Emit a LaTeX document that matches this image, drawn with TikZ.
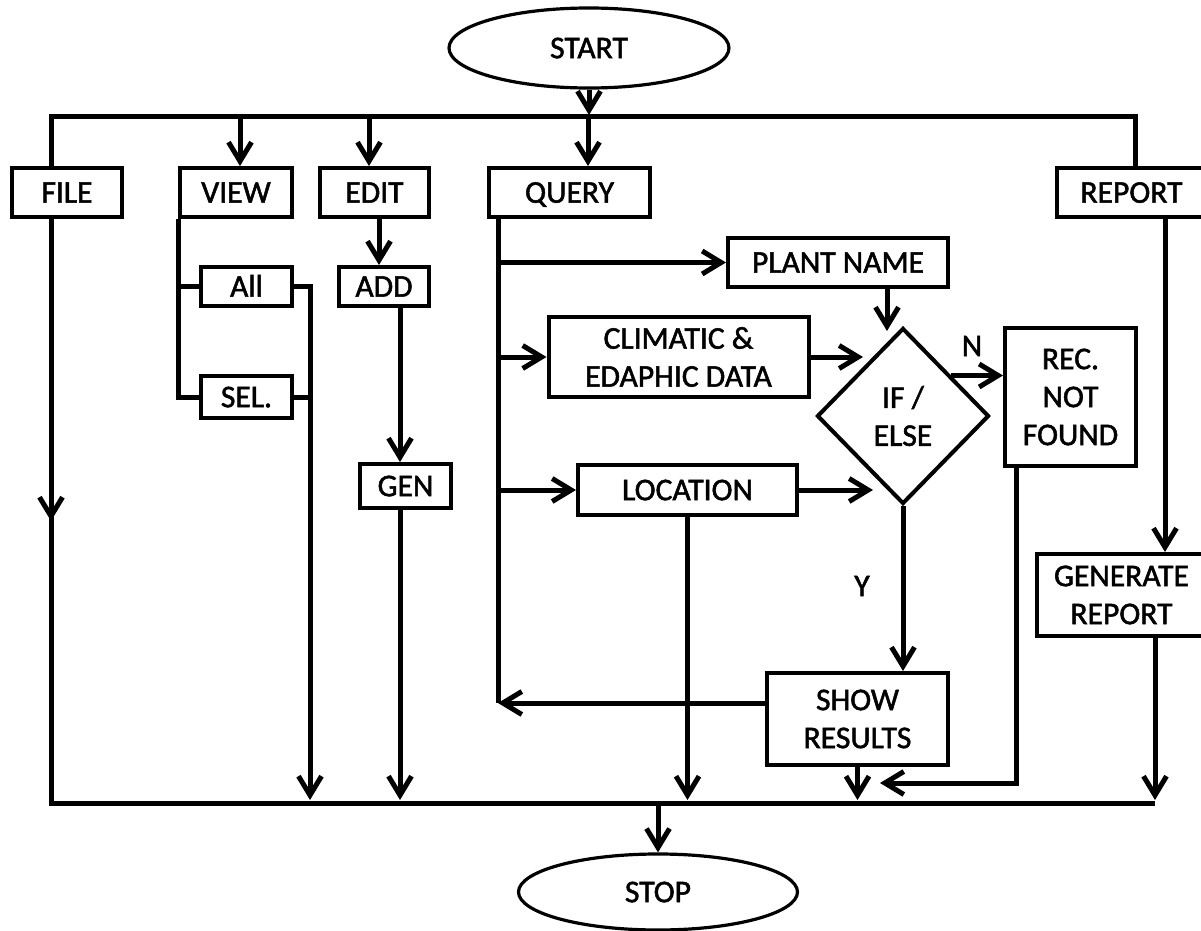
\documentclass[tikz,border=0pt]{standalone}
\usepackage{fontspec}
\setmainfont{Carlito}[RawFeature={embolden=1.6}]
\usetikzlibrary{arrows.meta,shapes.geometric,calc}
\begin{document}
\begin{tikzpicture}[x=0.5pt,y=-0.5pt,
  font=\fontsize{15.8pt}{19pt}\selectfont,
  box/.style={draw, line width=2pt, inner sep=0pt, align=center},
  one/.style={text height=10.2pt, text depth=0pt},
  oval/.style={draw, ellipse, line width=1.6pt, inner sep=0pt, text height=10.2pt, text depth=0pt},
  line/.style={line width=2.5pt},
  arr/.style={line width=2.5pt, -{Straight Barb[length=9.5pt,width=11.5pt]}},
  lab/.style={inner sep=0pt, text height=10.2pt, text depth=0pt},
]
\useasboundingbox (0,0) rectangle (1201,931);
\clip (0,0) rectangle (1201,931);

% nodes
\node[oval, minimum width=140pt, minimum height=40pt] (start) at (589,48) {START};
\node[oval, minimum width=139.5pt, minimum height=38pt] (stop) at (658,892) {STOP};

\node[box, one, minimum width=55pt, minimum height=24.5pt] (file) at (67,192.5) {FILE};
\node[box, one, minimum width=56pt, minimum height=24.5pt] (view) at (236,192.5) {VIEW};
\node[box, one, minimum width=54.5pt, minimum height=24.5pt] (edit) at (374.5,192.5) {EDIT};
\node[box, one, minimum width=80.5pt, minimum height=24.5pt] (query) at (569.5,192.5) {QUERY};
\node[box, one, minimum width=74.5pt, minimum height=24.5pt] (report) at (1131.5,192.5) {REPORT};

\node[box, one, minimum width=45.5pt, minimum height=19.5pt] (all) at (246.5,286.5) {All};
\node[box, one, minimum width=45.5pt, minimum height=21pt] (sel) at (246.5,397) {SEL.};
\node[box, one, minimum width=45pt, minimum height=19.5pt] (add) at (384,286.5) {ADD};
\node[box, one, minimum width=45.5pt, minimum height=22pt] (gen) at (405.5,486) {GEN};

\node[box, one, minimum width=110pt, minimum height=24.5pt] (plant) at (838,262.5) {PLANT NAME};
\node[box, minimum width=130pt, minimum height=40pt] (clim) at (678.5,357) {CLIMATIC \&\\EDAPHIC DATA};
\node[box, one, minimum width=109.5pt, minimum height=25pt] (loc) at (687.5,490) {LOCATION};
\node[box, diamond, minimum width=86pt, minimum height=88pt] (dia) at (903,416) {IF /\\ELSE};
\node[box, minimum width=65.5pt, minimum height=69pt] (rec) at (1070.5,397) {REC.\\NOT\\FOUND};
\node[box, minimum width=90.5pt, minimum height=46pt] (show) at (857.5,719) {SHOW\\RESULTS};
\node[box, minimum width=84.5pt, minimum height=41pt] (genr) at (1121.5,595) {GENERATE\\REPORT};

\node[lab] (nlab) at (972,346) {N};
\node[lab] (ylab) at (862,586) {Y};

% helper coordinates
\coordinate (tl) at (51,117);
\coordinate (tr) at (1135,117);
\coordinate (tt) at (0,115);
\coordinate (bl) at (51,803);
\coordinate (br) at (1155,803);
\coordinate (bt) at (0,800);
\coordinate (vx) at (240,117);
\coordinate (ex) at (369,117);
\coordinate (qx) at (588,117);
\coordinate (fm) at (51,521);
\coordinate (vr) at (310,0);
\coordinate (ax) at (379,0);
\coordinate (gx) at (400,0);
\coordinate (qv) at (498,703);
\coordinate (pt) at ($(dia.north)+(-16,5)$);
\coordinate (ct) at ($(dia.west)+(48,0)$);
\coordinate (lt) at ($(dia.west)+(58,0)$);
\coordinate (nt) at ($(dia.north)!0.55!(dia.east)$);
\coordinate (rx) at (1016,783);
\coordinate (rt) at (880,783);
\coordinate (rgx) at (1165,0);

% top bus
\draw[line] (file.north -| tl) -- (tl) -- (tr) -- (report.north -| tr);
\draw[arr] (start.south) -- (start.south |- tt);
\draw[arr] (vx) -- (vx |- view.north);
\draw[arr] (ex) -- (ex |- edit.north);
\draw[arr] (qx) -- (qx |- query.north);

% bottom bus and FILE
\draw[line] (file.south -| bl) -- (bl) -- (br);
\draw[arr] (file.south -| bl) -- (fm);

% VIEW
\draw[line] (view.south west) |- (sel.west);
\draw[line] (view.south west |- all.west) -- (all.west);
\draw[arr] (all.east) -| (vr |- bt);
\draw[line] (sel.east) -- (sel.east -| vr);

% EDIT
\draw[arr] (edit.south -| ax) -- (add.north -| ax);
\draw[arr] (add.south -| gx) -- (gen.north -| gx);
\draw[arr] (gen.south -| gx) -- (gx |- bt);

% QUERY
\draw[line] (query.south -| qv) -- (qv);
\draw[arr] (qv |- plant.west) -- (plant.west);
\draw[arr] (qv |- clim.west) -- (clim.west);
\draw[arr] (qv |- loc.west) -- (loc.west);
\draw[arr] (show.west |- qv) -- (qv);

\draw[arr] (plant.south -| pt) -- (pt);
\draw[arr] (clim.east) -- (clim.east -| ct);
\draw[arr] (loc.east) -- (loc.east -| lt);
\draw[arr] (nt) -- (nt -| rec.west);
\draw[arr] (dia.south) -- (dia.south |- show.north);
\draw[arr] (show.south) -- (show.south |- bt);
\draw[arr] (loc.south) -- (loc.south |- bt);
\draw[arr] (rec.south -| rx) |- (rt);

% REPORT
\draw[arr] (report.south -| rgx) -- (genr.north -| rgx);
\draw[arr] (genr.south -| br) -- (br |- bt);

% STOP
\draw[arr] (stop.north |- bl) -- (stop.north);
\end{tikzpicture}
\end{document}
